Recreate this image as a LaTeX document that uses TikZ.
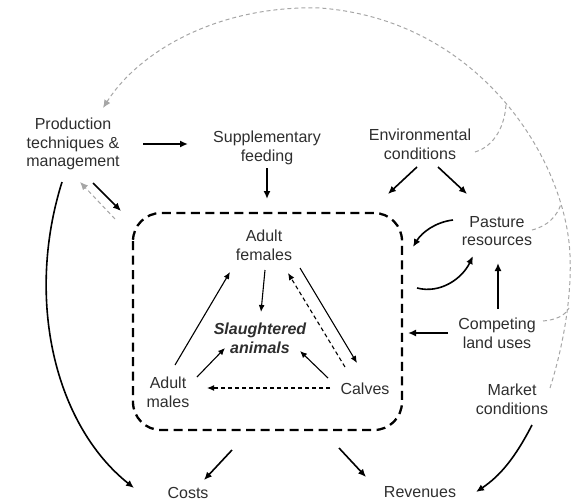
\documentclass[tikz,border=0pt]{standalone}
\usepackage{fontspec}
\setmainfont{Liberation Sans}
\usetikzlibrary{arrows.meta}
\begin{document}
\begin{tikzpicture}[x=1pt,y=-1pt,
  lbl/.style={align=center,text=black!82,font=\fontsize{16}{18.8}\selectfont,inner sep=0pt},
  arr/.style={line width=1.6pt,-{Latex[length=8pt,width=7pt]}},
  thin/.style={line width=1.1pt,-{Latex[length=7pt,width=6pt]}},
  thindash/.style={thin,dash pattern=on 4pt off 3pt},
  gdash/.style={draw=gray!70,line width=1pt,dash pattern=on 4pt off 3pt},
  garr/.style={gdash,-{Latex[length=8pt,width=7pt]}},
  boxline/.style={line width=2.3pt,dash pattern=on 9pt off 5.5pt,rounded corners=28pt}]
\useasboundingbox (0,0) rectangle (578,503);
% nodes
\node[lbl] (prod) at (73,144) {Production\\techniques \&\\management};
\node[lbl] (supp) at (267,148) {Supplementary\\feeding};
\node[lbl] (env) at (420,144) {Environmental\\conditions};
\node[lbl] (past) at (497,231) {Pasture\\resources};
\node[lbl] (comp) at (497,333) {Competing\\land uses};
\node[lbl] (mark) at (512,399) {Market\\conditions};
\node[lbl] (costs) at (188,493) {Costs};
\node[lbl] (rev) at (420,492) {Revenues};
\node[lbl] (af) at (264,245) {Adult\\females};
\node[lbl,font=\fontsize{16}{18.8}\selectfont\bfseries\itshape] (sa) at (260,338) {Slaughtered\\animals};
\node[lbl] (am) at (168,392) {Adult\\males};
\node[lbl] (calv) at (365,389) {Calves};
% herd box
\draw[boxline] (133,213) rectangle (402,430);
% connector end points
\coordinate (p1) at (143,144); \coordinate (s1) at (188,144);
\coordinate (s2) at (267,168); \coordinate (b1) at (267,199);
\coordinate (e1) at (417,167); \coordinate (b2) at (388,194);
\coordinate (e2) at (438,167); \coordinate (pa1) at (467,194);
\coordinate (pa2) at (453,220); \coordinate (b3) at (413,247);
\coordinate (b4) at (417,288); \coordinate (pa3) at (473,256);
\coordinate (c1) at (498,309); \coordinate (pa4) at (498,263);
\coordinate (c2) at (448,333); \coordinate (b5) at (408,333);
\coordinate (b6) at (232,450); \coordinate (co1) at (204,480);
\coordinate (b7) at (339,448); \coordinate (r1) at (366,477);
\coordinate (m1) at (532,425); \coordinate (r2) at (476,492);
\coordinate (p2) at (62,182); \coordinate (co2) at (134,488);
\coordinate (p3) at (93,183); \coordinate (b8) at (121,211);
\coordinate (b9) at (115,219); \coordinate (p4) at (80,182);
% main arrows
\draw[arr] (p1) -- (s1);
\draw[arr] (s2) -- (b1);
\draw[arr] (e1) -- (b2);
\draw[arr] (e2) -- (pa1);
\draw[arr] (pa2) .. controls (436,222) and (422,232) .. (b3);
\draw[arr] (b4) .. controls (440,294) and (462,279) .. (pa3);
\draw[arr] (c1) -- (pa4);
\draw[arr] (c2) -- (b5);
\draw[arr] (b6) -- (co1);
\draw[arr] (b7) -- (r1);
\draw[arr] (m1) .. controls (515,458) and (500,476) .. (r2);
\draw[arr] (p2) .. controls (25,300) and (55,425) .. (co2);
\draw[arr] (p3) -- (b8);
\draw[garr] (b9) -- (p4);
% inner arrows
\coordinate (af1) at (265,270); \coordinate (sa1) at (261,312);
\coordinate (am1) at (175,365); \coordinate (af2) at (230,272);
\coordinate (am2) at (197,377); \coordinate (sa2) at (225,348);
\coordinate (ca1) at (328,378); \coordinate (sa3) at (300,351);
\coordinate (ca2) at (330,388); \coordinate (am3) at (207,388);
\coordinate (af3) at (300,268); \coordinate (ca3) at (357,363);
\coordinate (ca4) at (345,367); \coordinate (af4) at (288,273);
\draw[thin] (af1) -- (sa1);
\draw[thin] (am1) -- (af2);
\draw[thin] (am2) -- (sa2);
\draw[thin] (ca1) -- (sa3);
\draw[thindash] (ca2) -- (am3);
\draw[thin] (af3) -- (ca3);
\draw[thindash] (ca4) -- (af4);
% grey feedback arc
\coordinate (g0) at (550,388);
\coordinate (g1) at (570,255);
\coordinate (gtop) at (320,8);
\coordinate (gend) at (103,108);
\draw[garr] (g0) .. controls (562,350) and (572,300) .. (g1)
  .. controls (566,160) and (480,20) .. (gtop)
  .. controls (220,5) and (140,50) .. (gend);
\coordinate (ge) at (475,152); \coordinate (gj1) at (506,104);
\coordinate (gp) at (532,230); \coordinate (gj2) at (561,204);
\coordinate (gc) at (543,321); \coordinate (gj3) at (569,308);
\draw[gdash] (ge) .. controls (495,146) and (505,125) .. (gj1);
\draw[gdash] (gp) .. controls (548,226) and (557,216) .. (gj2);
\draw[gdash] (gc) .. controls (555,320) and (565,316) .. (gj3);
\end{tikzpicture}
\end{document}
